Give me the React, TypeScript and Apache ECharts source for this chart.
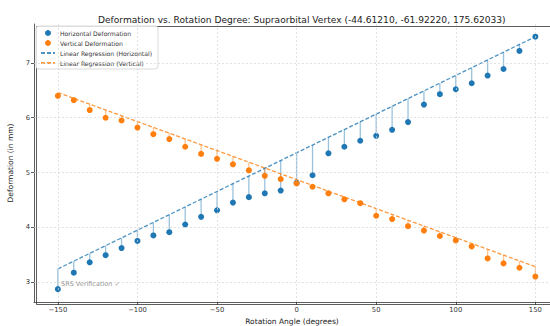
import React, { useEffect, useRef } from "react";
import * as echarts from "echarts";

const angles = [-150, -140, -130, -120, -110, -100, -90, -80, -70, -60, -50, -40, -30, -20, -10, 0, 10, 20, 30, 40, 50, 60, 70, 80, 90, 100, 110, 120, 130, 140, 150];
const horizontal = [2.87, 3.17, 3.36, 3.49, 3.62, 3.75, 3.85, 3.91, 4.05, 4.19, 4.31, 4.45, 4.55, 4.62, 4.67, 4.81, 4.95, 5.35, 5.47, 5.58, 5.67, 5.78, 5.92, 6.24, 6.43, 6.52, 6.63, 6.77, 6.89, 7.22, 7.48];
const vertical = [6.40, 6.32, 6.14, 6.00, 5.95, 5.82, 5.70, 5.61, 5.47, 5.34, 5.25, 5.15, 5.04, 4.94, 4.88, 4.80, 4.74, 4.62, 4.51, 4.44, 4.21, 4.15, 4.02, 3.94, 3.84, 3.76, 3.65, 3.43, 3.34, 3.26, 3.10];
// regression line values at the first and last angle
const regAngles = [-150, 150];
const regHorizontal = [3.24, 7.48];
const regVertical = [6.46, 3.28];
const xTicks = [-150, -100, -50, 0, 50, 100, 150];
const yTicks = [3, 4, 5, 6, 7];

const BLUE = "#1f77b4";
const ORANGE = "#ff7f0e";
const FONT = "DejaVu Sans";

function regAt(reg: number[], x: number) {
  const t = (x - regAngles[0]) / (regAngles[1] - regAngles[0]);
  return reg[0] + (reg[1] - reg[0]) * t;
}

function stemSeries(vals: number[], reg: number[], color: string) {
  return {
    type: "custom",
    silent: true,
    z: 2,
    data: angles.map((a, i) => [a, vals[i], regAt(reg, a)]),
    renderItem: (params: any, api: any) => {
      const p1 = api.coord([api.value(0), api.value(1)]);
      const p2 = api.coord([api.value(0), api.value(2)]);
      return {
        type: "line",
        shape: { x1: p1[0], y1: p1[1], x2: p2[0], y2: p2[1] },
        style: { stroke: color, lineWidth: 1.3 },
      };
    },
  };
}

export default function App() {
  const ref = useRef<HTMLDivElement>(null);
  useEffect(() => {
    if (!ref.current) return;
    const chart = echarts.init(ref.current, undefined, { renderer: "svg" });
    chart.setOption({
      animation: false,
      backgroundColor: "#fff",
      textStyle: { fontFamily: FONT },
      title: {
        text: "Deformation vs. Rotation Degree: Supraorbital Vertex (-44.61210, -61.92220, 175.62033)",
        left: 93,
        top: 10,
        textStyle: { fontSize: 9.1, fontWeight: "normal", color: "#222", fontFamily: FONT },
      },
      legend: {
        orient: "vertical",
        left: 36,
        top: 26,
        itemWidth: 14,
        itemHeight: 6,
        itemGap: 4,
        padding: [4, 6, 3, 4],
        borderColor: "#d0d0d0",
        borderWidth: 0.8,
        borderRadius: 3,
        backgroundColor: "rgba(255,255,255,0.85)",
        textStyle: { fontSize: 6.1, color: "#333", fontFamily: FONT },
        data: [
          { name: "Horizontal Deformation", icon: "circle" },
          { name: "Vertical Deformation", icon: "circle" },
          { name: "Linear Regression (Horizontal)", itemStyle: { opacity: 0 } },
          { name: "Linear Regression (Vertical)", itemStyle: { opacity: 0 } },
        ],
      },
      grid: { left: 34, right: 0, top: 24, bottom: 24, outerBoundsMode: "none", containLabel: false },
      xAxis: {
        type: "value",
        min: -165,
        max: 159.2,
        name: "Rotation Angle (degrees)",
        nameLocation: "middle",
        nameGap: 14,
        nameTextStyle: { fontSize: 7.5, color: "#222", fontFamily: FONT },
        axisLine: { show: true, onZero: false, lineStyle: { color: "#333", width: 0.8 } },
        axisTick: { show: true, length: 3, customValues: xTicks, lineStyle: { color: "#333", width: 0.8 } },
        axisLabel: { customValues: xTicks, fontSize: 6.8, color: "#333", margin: 4, fontFamily: FONT, formatter: (v: number) => (v < 0 ? "\u2212" + Math.abs(v) : String(v)) },
        splitLine: { show: false },
      },
      yAxis: {
        type: "value",
        min: 2.635,
        max: 7.712,
        name: "Deformation (in mm)",
        nameLocation: "middle",
        nameGap: 12,
        nameTextStyle: { fontSize: 7.5, color: "#222", fontFamily: FONT },
        axisLine: { show: true, onZero: false, lineStyle: { color: "#333", width: 0.8 } },
        axisTick: { show: true, length: 3, customValues: yTicks, lineStyle: { color: "#333", width: 0.8 } },
        axisLabel: { customValues: yTicks, fontSize: 6.8, color: "#333", margin: 4, fontFamily: FONT },
        splitLine: { show: false },
      },
      graphic: [
        {
          type: "rect",
          left: 34,
          top: 24,
          shape: { width: 530, height: 278 },
          style: { fill: "none", stroke: "#333", lineWidth: 0.8 },
          silent: true,
          z: 0,
        },
        {
          type: "text",
          left: 61,
          top: 280,
          style: { text: "SRS Verification \u2713", fontSize: 6.5, fill: "#999", fontFamily: FONT },
          silent: true,
          z: 10,
        },
      ],
      series: [
        {
          name: "grid",
          type: "line",
          data: [],
          silent: true,
          z: 0,
          markLine: {
            silent: true,
            symbol: ["none", "none"],
            label: { show: false },
            animation: false,
            lineStyle: { type: [2, 2], color: "#d6d6d6", width: 0.7 },
            emphasis: { disabled: true },
            data: [
              ...xTicks.map((v) => ({ xAxis: v })),
              ...yTicks.map((v) => ({ yAxis: v })),
            ],
          },
        },
        stemSeries(horizontal, regHorizontal, "rgba(31,119,180,0.45)"),
        stemSeries(vertical, regVertical, "rgba(255,127,14,0.45)"),
        {
          name: "Linear Regression (Horizontal)",
          type: "line",
          z: 3,
          symbol: "none",
          data: regAngles.map((a, i) => [a, regHorizontal[i]]),
          lineStyle: { color: BLUE, width: 1.3, type: [4, 2], opacity: 0.8 },
          itemStyle: { color: BLUE },
        },
        {
          name: "Linear Regression (Vertical)",
          type: "line",
          z: 3,
          symbol: "none",
          data: regAngles.map((a, i) => [a, regVertical[i]]),
          lineStyle: { color: ORANGE, width: 1.3, type: [4, 2], opacity: 0.8 },
          itemStyle: { color: ORANGE },
        },
        {
          name: "Horizontal Deformation",
          type: "scatter",
          z: 4,
          symbolSize: 6,
          data: angles.map((a, i) => [a, horizontal[i]]),
          itemStyle: { color: BLUE, opacity: 1 },
        },
        {
          name: "Vertical Deformation",
          type: "scatter",
          z: 5,
          symbolSize: 6,
          data: angles.map((a, i) => [a, vertical[i]]),
          itemStyle: { color: ORANGE, opacity: 1 },
        },
      ],
    });
    return () => chart.dispose();
  }, []);
  return <div ref={ref} style={{ position: "fixed", left: 0, top: 0, width: 550, height: 326 }} />;
}
